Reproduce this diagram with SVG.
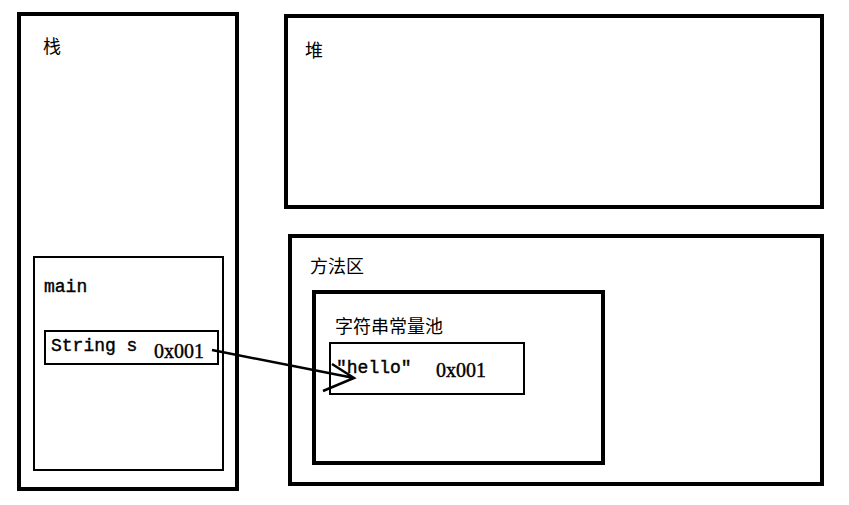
<svg xmlns="http://www.w3.org/2000/svg" width="849" height="505" viewBox="0 0 849 505">
<style>
.b{fill:none;stroke:#000;stroke-width:4}
.t{fill:none;stroke:#000;stroke-width:2}
.c{font-family:"Noto Sans CJK SC",sans-serif;font-size:18px}
.m{font-family:"Liberation Mono",monospace;font-size:18px;stroke:#000;stroke-width:0.4}
.s{font-family:"Liberation Serif",serif;font-size:20px;stroke:#000;stroke-width:0.4}
</style>
<rect width="849" height="505" fill="#fff"/>
<g id="stack"><rect class="b" x="19" y="14" width="218" height="475"/><text class="c" x="43" y="53">栈</text></g>
<g id="heap"><rect class="b" x="286" y="16" width="536" height="191"/><text class="c" x="305" y="57">堆</text></g>
<g id="method"><rect class="b" x="290" y="236" width="532" height="248"/><text class="c" x="310" y="273">方法区</text></g>
<g id="main"><rect class="t" x="34" y="257" width="189" height="213"/><text class="m" x="44" y="292">main</text></g>
<g id="strs"><rect class="t" x="45" y="331" width="173" height="33"/><text class="m" x="51" y="351">String s</text><text class="s" x="154" y="358">0x001</text></g>
<g id="pool"><rect class="b" x="314" y="292" width="289" height="171"/><text class="c" x="335" y="333">字符串常量池</text></g>
<g id="hello"><rect class="t" x="330" y="343" width="194" height="51"/><text class="m" x="336" y="373">″hello″</text><text class="s" x="436" y="377">0x001</text></g>
<g id="connectors" fill="none" stroke="#000" stroke-width="2.5">
<path d="M212 350 L354 378 M332 364 L354 378 L323 391"/>
</g>
</svg>
